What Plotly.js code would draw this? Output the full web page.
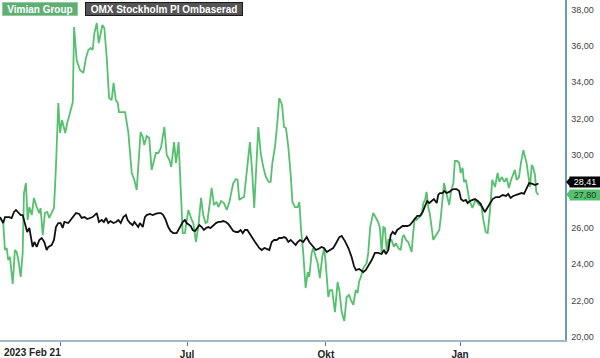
<!DOCTYPE html>
<html>
<head>
<meta charset="utf-8">
<script src="https://cdn.plot.ly/plotly-3.0.1.min.js"></script>
<style>html,body{margin:0;padding:0;background:#fff;}#chart{width:600px;height:358px;}</style>
</head>
<body>
<div id="chart"></div>
<script>
// Trading-day index (0 = 2023-02-21) and closing prices
const dayVimian = [0,1.5,2.3,3.1,3.8,4.6,5.9,6.9,7.7,8.5,9.6,10.5,11.1,12.0,12.8,13.6,14.7,15.7,17.0,18.2,18.8,19.8,20.8,21.9,22.8,23.9,25.0,25.9,27.0,27.8,28.7,29.3,30.2,31.2,31.8,33.7,33.9,34.3,35.5,37.0,38.6,39.8,40.9,42.0,42.9,43.7,44.8,45.7,46.3,47.4,48.3,49.4,50.5,51.7,52.6,53.6,54.5,55.1,57.9,59.4,61.0,62.2,63.3,65.1,66.1,66.8,67.9,69.1,70.2,71.3,72.2,73.3,74.5,76.1,77.2,78.4,79.3,80.6,81.5,82.7,83.7,84.6,85.6,87.2,88.8,89.5,90.7,91.8,93.1,94.1,95.2,96.0,97.2,98.0,99.1,100.3,101.1,102.3,103.7,105.0,106.2,108.0,109.3,110.0,110.8,111.9,113.0,114.2,115.7,116.8,117.7,119.6,120.7,121.9,123.1,124.4,125.3,126.1,127.3,128.4,129.3,130.6,131.5,132.4,133.5,134.6,135.4,136.6,137.8,138.6,139.4,140.4,141.5,142.5,143.2,144.3,145.0,146.2,147.1,148.1,149.2,150.1,150.8,152.0,152.8,153.8,155.1,156.3,157.1,158.2,159.4,160.5,161.6,162.5,163.6,164.7,165.6,166.2,167.1,168.2,169.8,170.5,171.4,172.8,173.9,175.1,175.9,176.7,177.5,178.2,179.0,179.8,181.3,182.4,183.3,184.4,185.5,186.4,187.0,188.0,189.0,189.8,190.6,191.3,192.0,192.9,194.1,195.2,196.0,196.8,197.5,198.3,199.1,199.9,200.6,201.4,202.2,203.4,204.2,205.0,205.6,206.3,207.3,208.0,208.8,209.9,210.6,211.7,212.6,213.3,214.2,214.8,215.7,216.5,217.3,218.7,219.4,220.2,221.9,222.7,223.8,224.9,225.8,226.9,227.9,229.2,230.4,231.2,232.3,233.5,234.6,235.6,236.6,237.6,238.4,239.2,240.3,241.2,242.3,243.1,243.8,244.6,245.4,246.2,246.9,247.7,248.3,249.3];
const vimian = [26.59,26.26,24.78,24.89,24.23,24.40,22.91,24.78,24.67,24.23,23.30,24.62,27.91,28.46,26.43,27.14,26.70,27.64,27.14,26.81,27.09,25.60,26.81,26.87,26.54,26.81,27.09,29.34,32.86,31.21,31.92,31.65,31.21,31.81,32.03,32.91,34.12,37.03,35.22,34.67,34.51,35.33,35.77,35.88,35.77,36.70,37.25,36.15,36.48,37.14,36.98,35.38,33.13,33.02,33.96,33.02,32.86,32.36,32.36,31.26,29.01,28.63,28.08,31.26,30.99,30.55,31.04,30.93,29.18,29.62,30.11,30.11,30.38,31.54,30.00,29.73,29.34,30.71,29.56,30.71,28.46,25.71,25.71,26.98,26.43,26.26,25.22,26.04,27.64,26.70,26.26,26.32,27.42,28.19,27.25,27.42,27.14,27.47,27.36,26.98,27.42,28.46,28.68,28.63,27.53,27.64,27.69,29.18,30.71,29.01,27.09,31.54,30.11,29.34,28.79,28.52,28.52,29.56,30.44,31.76,33.13,32.75,31.54,31.48,30.44,28.90,27.42,27.14,27.14,27.42,25.88,24.62,22.69,23.57,23.30,24.62,24.89,24.40,24.07,23.24,24.40,24.89,24.07,22.20,22.58,22.58,21.37,23.02,22.58,21.37,20.88,22.20,22.31,22.03,21.76,22.58,22.42,23.02,23.30,23.79,24.07,24.62,26.04,26.81,26.54,26.32,25.99,24.62,26.04,25.99,24.78,25.33,25.33,24.95,25.16,24.89,24.78,25.49,25.60,25.33,25.22,24.95,24.67,25.71,26.54,26.43,26.59,26.70,27.36,27.53,27.97,27.14,26.70,26.04,25.33,25.49,25.66,25.88,26.70,27.80,28.46,28.08,27.64,27.25,27.97,28.46,29.67,29.67,29.56,29.01,29.29,28.52,28.63,28.08,27.53,27.09,27.36,27.53,27.25,27.36,26.43,25.77,25.71,26.98,28.63,28.24,29.01,28.52,28.79,28.52,28.74,28.19,28.63,28.90,29.18,28.63,28.79,29.56,30.27,29.89,29.56,28.90,28.24,29.45,29.29,28.90,27.97,27.80];

const dayOmx = [0,1.5,2.3,4.3,5.4,6.5,7.4,8.5,9.6,10.5,11.6,12.6,13.6,14.4,15.1,15.9,17.0,18.2,19.3,20.5,21.6,22.4,23.9,25.0,25.9,27.0,28.1,29.0,29.8,31.6,32.7,33.9,35.2,36.7,37.8,39.1,40.4,41.7,42.9,44.8,45.8,47.1,48.1,49.1,50.1,51.2,52.5,53.7,54.8,55.9,57.1,58.3,59.1,60.2,61.4,62.2,63.3,64.0,64.8,66.1,67.1,67.9,69.4,70.7,72.0,73.3,74.5,75.6,76.7,77.9,79.0,80.2,81.8,83.3,84.6,85.6,86.4,88.3,89.2,90.3,91.3,92.3,93.4,94.4,95.4,96.4,97.5,98.8,100.0,101.1,102.2,103.4,104.6,105.7,106.8,108.0,109.3,110.3,111.4,112.4,113.4,114.5,115.7,116.8,118.1,119.1,120.0,121.2,122.4,123.5,124.7,125.8,126.9,128.1,129.3,130.4,131.5,132.4,133.5,134.6,135.8,136.9,137.8,138.9,140.4,142.0,143.2,144.8,146.3,147.4,148.9,150.0,151.3,152.8,154.3,155.9,157.1,158.2,159.7,161.3,162.8,163.9,164.8,166.3,168.2,169.4,170.5,172.1,173.6,175.1,176.7,177.8,178.7,179.8,180.9,181.8,182.9,183.9,185.2,186.4,187.5,188.6,189.8,191.1,192.1,193.2,194.4,195.7,196.8,197.8,198.8,199.9,200.9,202.2,202.9,203.7,204.9,205.7,206.8,208.0,209.1,210.2,211.4,212.6,213.4,214.5,215.7,216.5,217.6,218.8,219.9,221.2,222.2,223.5,224.5,225.6,226.9,228.1,229.6,231.2,232.7,234.3,235.3,236.4,237.6,239.2,240.4,241.5,242.6,243.8,245.0,246.6,247.7,248.8,249.3];
const omx = [26.59,26.26,26.59,26.59,26.54,26.87,26.98,26.81,26.70,26.70,26.26,25.77,25.99,25.49,24.95,25.22,24.95,25.33,25.44,25.22,24.78,24.95,25.05,25.33,26.04,26.26,26.26,25.99,26.32,26.26,26.43,26.59,26.81,26.76,26.54,26.59,26.48,26.54,26.59,26.81,26.32,26.43,26.32,26.54,26.26,26.37,26.26,26.32,26.43,26.26,26.59,26.70,26.43,26.26,26.15,26.32,26.15,26.04,26.26,26.04,26.59,26.70,26.76,26.70,26.76,26.81,26.81,26.70,26.43,26.04,25.82,25.71,25.71,26.04,26.32,26.43,26.26,26.10,25.88,25.82,25.99,26.15,26.04,25.88,25.99,26.04,25.99,26.15,26.26,26.32,26.32,26.37,26.32,26.21,25.99,25.82,25.77,25.77,25.88,25.71,25.88,25.88,25.66,25.49,25.22,25.05,24.89,24.78,24.89,24.84,24.78,25.22,25.33,25.33,25.44,25.44,25.49,25.44,25.22,25.33,25.16,25.05,25.22,25.33,25.22,25.49,25.22,25.00,24.78,24.84,24.95,24.89,24.67,24.78,24.89,25.22,25.49,25.55,25.27,24.89,24.40,23.90,23.68,23.74,23.57,23.68,23.90,24.23,24.62,24.62,24.56,24.78,24.56,24.78,25.60,25.77,25.66,25.88,25.99,26.10,26.10,26.10,26.15,26.32,26.48,26.65,26.65,26.87,27.20,27.47,27.36,27.47,27.58,27.36,27.80,27.91,27.91,28.02,27.91,27.97,28.08,28.13,28.13,28.02,27.58,27.47,27.53,27.36,27.47,27.53,27.58,27.47,27.36,27.09,26.87,27.09,27.36,27.58,27.69,27.69,27.80,27.75,27.86,27.64,27.75,27.80,27.86,27.91,27.86,28.19,28.46,28.41,28.35,28.41,28.41];

const seriesNames = ['Vimian Group', 'OMX Stockholm PI Ombaserad'];
const tickDays = [27.8, 86.6, 150.9, 213.0];
const tickLabels = ['2023 Feb 21', 'Jul', 'Okt', 'Jan'];
// 28,00 is hidden behind the last-value tags in the original
const yTicks = [20, 22, 24, 26, 30, 32, 34, 36, 38];

const FONT = 'Arial, "Liberation Sans", sans-serif';
const GREEN = '#55c06e';
const lastV = vimian[vimian.length - 1];
const lastO = omx[omx.length - 1];
const fmt = v => v.toFixed(2).replace('.', ',');

const traces = [
  {x: dayVimian, y: vimian, type: 'scatter', mode: 'lines', name: seriesNames[0],
   line: {color: GREEN, width: 1.8}, hoverinfo: 'skip'},
  {x: dayOmx, y: omx, type: 'scatter', mode: 'lines', name: seriesNames[1],
   line: {color: '#111111', width: 1.8}, hoverinfo: 'skip'}
];

const layout = {
  width: 600, height: 358,
  margin: {l: 0, r: 35, t: 0, b: 18, pad: 0},
  paper_bgcolor: '#ffffff', plot_bgcolor: '#ffffff',
  showlegend: false,
  separators: ', ',
  font: {family: FONT, size: 9, color: '#333'},
  xaxis: {
    range: [0, 261.6], showgrid: false, zeroline: false,
    showline: true, linecolor: '#a3b8c9', linewidth: 1.5,
    ticks: 'outside', ticklen: 4, tickwidth: 1, tickcolor: '#3f7fc0',
    tickmode: 'array', tickvals: tickDays,
    ticktext: tickLabels.map((t, i) => i === 0 ? '' : '<b>' + t + '</b>'),
    tickfont: {family: FONT, size: 10, color: '#222'}
  },
  yaxis: {
    range: [19.835, 38.516], side: 'right', showgrid: false, zeroline: false,
    showline: true, linecolor: '#6a98c2', linewidth: 1.5,
    ticks: '', tickmode: 'array', tickvals: yTicks, tickformat: '.2f',
    ticklabelstandoff: 3,
    tickfont: {family: FONT, size: 9, color: '#444'}
  },
  annotations: [
    {xref: 'paper', yref: 'paper', x: 0, y: 1, xanchor: 'left', yanchor: 'top',
     xshift: 2, yshift: -2, text: '<b>' + seriesNames[0] + '</b>', showarrow: false,
     font: {family: FONT, size: 10, color: '#ffffff'}, bgcolor: '#5fae74',
     bordercolor: '#8fcc9c', borderwidth: 1, borderpad: 0, width: 74, height: 12},
    {xref: 'paper', yref: 'paper', x: 0, y: 1, xanchor: 'left', yanchor: 'top',
     xshift: 85, yshift: -2, text: '<b>' + seriesNames[1] + '</b>', showarrow: false,
     font: {family: FONT, size: 10, color: '#ffffff'}, bgcolor: '#545454',
     bordercolor: '#1a1a1a', borderwidth: 1, borderpad: 0, width: 156, height: 12},
    {xref: 'paper', yref: 'paper', x: 0, y: 0, xanchor: 'left', yanchor: 'top',
     xshift: 2, yshift: -5, text: '<b>' + tickLabels[0] + '</b>', showarrow: false,
     font: {family: FONT, size: 10, color: '#222'}},
    {xref: 'paper', yref: 'y', x: 1, y: lastO, xanchor: 'left', yanchor: 'middle',
     xshift: 4, yshift: 2, text: fmt(lastO), showarrow: false,
     font: {family: FONT, size: 9, color: '#ffffff'}, bgcolor: '#000000',
     borderpad: 0, width: 30, height: 10},
    {xref: 'paper', yref: 'y', x: 1, y: lastV, xanchor: 'left', yanchor: 'middle',
     xshift: 4, yshift: 0.5, text: fmt(lastV), showarrow: false,
     font: {family: FONT, size: 9, color: '#10401c'}, bgcolor: GREEN,
     borderpad: 0, width: 30, height: 10}
  ],
  shapes: [
    {type: 'path', xref: 'paper', yref: 'y', layer: 'above',
     path: 'M 1.0018,' + (lastO + 0.11) + ' L 1.0090,' + (lastO + 0.36) + ' L 1.0090,' + (lastO - 0.14) + ' Z',
     fillcolor: '#000000', line: {width: 0}},
    {type: 'path', xref: 'paper', yref: 'y', layer: 'above',
     path: 'M 1.0018,' + (lastV + 0.03) + ' L 1.0090,' + (lastV + 0.28) + ' L 1.0090,' + (lastV - 0.22) + ' Z',
     fillcolor: GREEN, line: {width: 0}}
  ]
};

Plotly.newPlot('chart', traces, layout, {displayModeBar: false, staticPlot: true});
</script>
</body>
</html>
